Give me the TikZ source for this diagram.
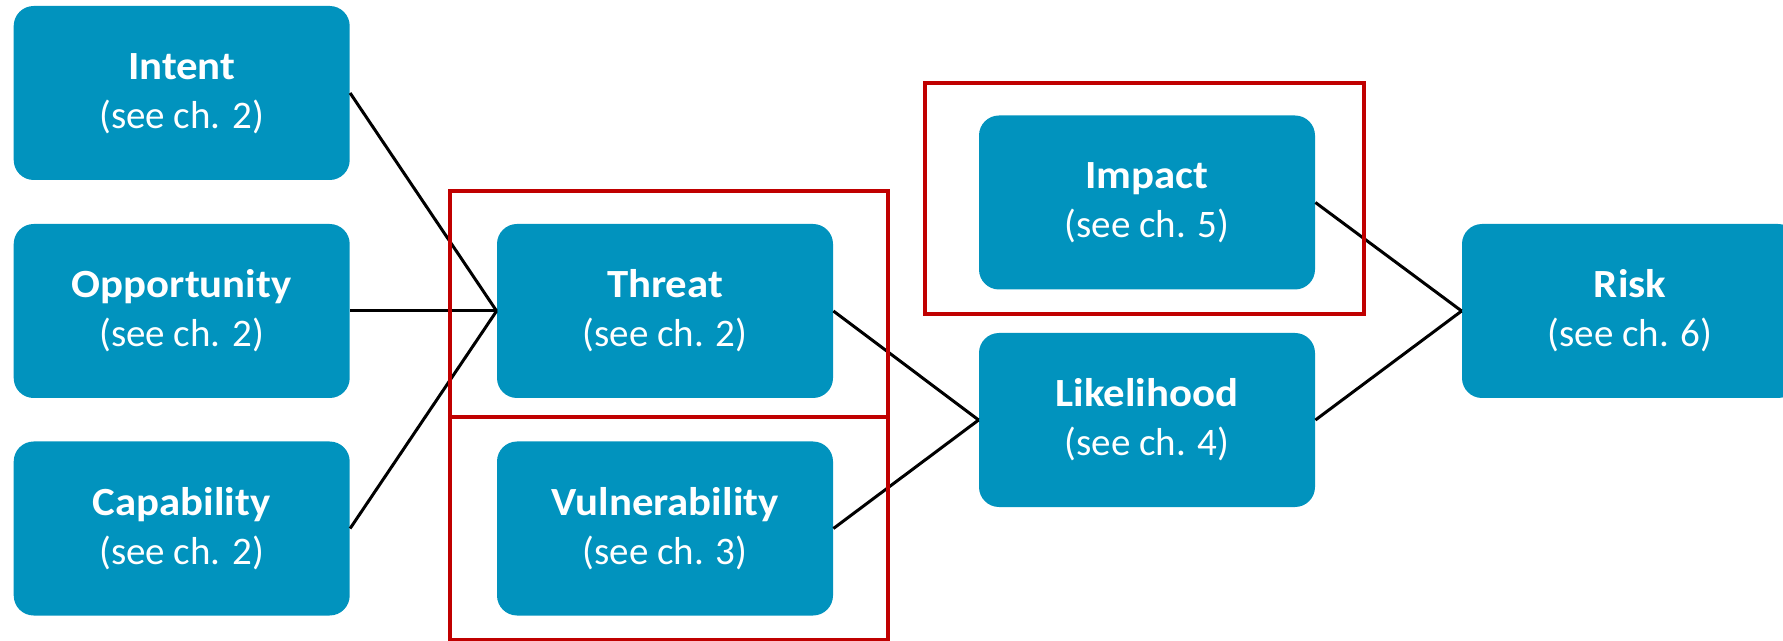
\documentclass[tikz,border=0pt]{standalone}
\usepackage{fontspec}
\setmainfont{Carlito}[BoldFeatures={FakeStretch=1.07}]
\definecolor{boxblue}{RGB}{1,147,190}
\definecolor{framered}{RGB}{192,0,0}
\newcommand\titlestrut{\rule{0pt}{15pt}}
\newcommand\substrut{\rule[-4pt]{0pt}{4pt}}
\newcommand\boxtext[2]{\titlestrut{\fontsize{20}{24.5}\selectfont\bfseries #1}\\{\fontsize{19.5}{24.5}\selectfont #2}\substrut}
\begin{document}
\begin{tikzpicture}[x=0.5pt,y=-0.5pt,
  factorbox/.style={rectangle, rounded corners=10pt, fill=boxblue, draw=none,
    minimum width=168pt, minimum height=87pt, inner sep=0pt, text=white,
    align=center, font=\fontsize{20}{24.5}\selectfont},
  link/.style={draw=black, line width=1.5pt},
  frame/.style={draw=framered, line width=2pt}]
\useasboundingbox (0,0) rectangle (1783,641);
\node[factorbox] (intent) at (181.7,93) {\boxtext{Intent}{(see ch. 2)}};
\node[factorbox] (opp) at (181.7,311) {\boxtext{Opportunity}{(see ch. 2)}};
\node[factorbox] (cap) at (181.7,528.5) {\boxtext{Capability}{(see ch. 2)}};
\node[factorbox] (threat) at (665,311) {\boxtext{Threat}{(see ch. 2)}};
\node[factorbox] (vuln) at (665,528.5) {\boxtext{Vulnerability}{(see ch. 3)}};
\node[factorbox] (impact) at (1147,202.5) {\boxtext{Impact}{(see ch. 5)}};
\node[factorbox] (likeli) at (1147,420) {\boxtext{Likelihood}{(see ch. 4)}};
\node[factorbox] (risk) at (1630,311) {\boxtext{Risk}{(see ch. 6)}};
\draw[link] (intent.east) -- (threat.west);
\draw[link] (opp.east) -- (threat.west);
\draw[link] (cap.east) -- (threat.west);
\draw[link] (threat.east) -- (likeli.west);
\draw[link] (vuln.east) -- (likeli.west);
\draw[link] (impact.east) -- (risk.west);
\draw[link] (likeli.east) -- (risk.west);
\draw[frame] (450,191) rectangle (888,417);
\draw[frame] (450,417) rectangle (888,640);
\draw[frame] (925,83.5) rectangle (1364,314);
\end{tikzpicture}
\end{document}
